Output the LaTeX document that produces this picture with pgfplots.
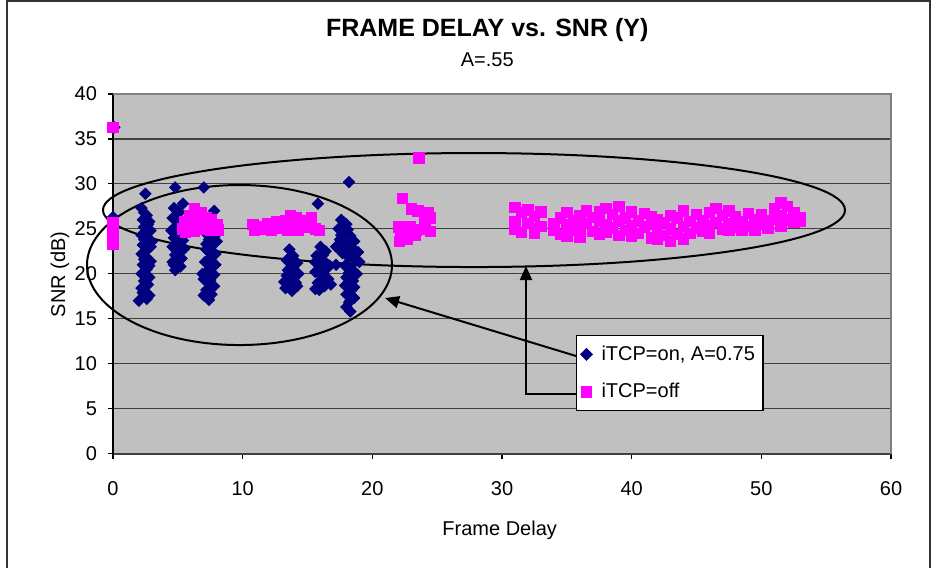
\documentclass[border=0pt]{standalone}
\usepackage{fontspec}
\setmainfont{Liberation Sans}
\usepackage{pgfplots}
\pgfplotsset{compat=1.18}
\usetikzlibrary{arrows.meta}

\definecolor{plotbg}{RGB}{192,192,192}
\definecolor{gridc}{RGB}{64,64,64}
\definecolor{onblue}{RGB}{0,0,128}
\definecolor{offpink}{RGB}{255,0,255}

\begin{document}
\begin{tikzpicture}
\begin{axis}[
    scale only axis,
    width=389pt, height=179.75pt,
    xmin=0, xmax=60, ymin=0, ymax=40,
    xtick={0,10,...,60}, ytick={0,5,...,40},
    axis x line*=bottom, axis y line*=left,
    x axis line style={gridc, line width=1pt},
    y axis line style={black, line width=0.8pt},
    tick align=outside, major tick length=2.5pt,
    tick style={black, line width=0.6pt},
    ymajorgrids, grid style={gridc, line width=0.6pt},
    axis background/.style={fill=plotbg},
    font=\fontsize{10}{12}\selectfont,
    /pgf/number format/assume math mode=true,
    xticklabel style={yshift=-8pt},
    yticklabel style={xshift=-2pt},
    xlabel={Frame Delay}, ylabel={SNR (dB)},
    every axis x label/.style={at={(axis description cs:0.497,-0.229)}, anchor=base},
    every axis y label/.style={at={(axis description cs:-0.0681,0.498)}, rotate=90, anchor=center},
    legend style={at={(axis description cs:0.595,0.3296)}, anchor=north west,
        draw=black, line width=0.6pt, fill=white, inner xsep=2pt, inner ysep=3pt,
        row sep=6pt, font=\fontsize{10}{12}\selectfont},
    legend cell align=left,
    legend image code/.code={\path[draw=none,fill=none] (0pt,0pt) rectangle (8.5pt,0.1pt);\draw[#1] plot coordinates {(3pt,0pt)};},
    clip=false,
]
% iTCP=on
\addplot[only marks, mark=square*, mark size=2.0pt, color=onblue,
    mark options={rotate=45, fill=onblue, draw=onblue}] coordinates {
(0.1,36.3) (0,26.3) (0,25.2) (0,24.0) (0,23.2)
(2.5,28.9) (2.2,27.3) (2.6,26.5) (2.3,26.0) (2.8,25.8) (2.4,25.2) (2.9,24.8)
(2.2,24.3) (2.6,24.0) (3.0,23.6) (2.3,23.2) (2.7,22.8) (2.2,22.2) (2.6,21.8)
(2.9,21.4) (2.3,21.0) (2.6,20.5) (2.2,20.0) (2.8,19.6) (2.4,19.2) (2.7,18.8)
(2.2,18.4) (2.5,18.0) (2.8,17.6) (2.0,17.0) (2.4,17.5)
(2.4,26.8) (2.7,25.5) (2.5,24.6) (2.4,23.8) (2.9,23.0) (2.5,22.5) (2.4,21.6)
(2.8,20.9) (2.5,19.9) (2.6,19.4) (2.3,17.9) (2.6,17.2)
(4.8,29.6) (5.4,27.8) (4.7,27.3) (5.1,26.8) (4.6,26.2) (5.3,25.8) (4.9,25.3)
(4.5,24.8) (5.2,24.5) (4.7,24.0) (5.0,23.5) (4.6,23.0) (5.1,22.6) (4.8,22.1)
(5.3,21.7) (4.6,21.3) (5.0,20.9) (4.8,20.4) (5.2,20.8)
(5.0,27.0) (4.9,26.0) (5.1,25.0) (4.8,24.4) (4.9,23.2) (5.1,21.9) (4.7,21.0)
(5.4,23.7) (5.6,25.6) (5.5,22.8)
(7.0,29.6) (7.8,27.0) (7.3,26.0) (7.6,25.3) (7.1,24.6) (7.9,24.3) (7.4,23.8)
(7.7,23.2) (7.2,22.7) (7.9,22.2) (7.5,21.8) (7.1,21.3) (7.7,20.8) (7.3,20.3)
(7.6,19.8) (7.0,19.4) (7.4,18.9) (7.8,18.6) (7.2,18.2) (7.6,17.7) (7.4,17.1)
(6.9,20.0)
(7.5,24.9) (7.4,22.4) (7.6,21.3) (7.2,19.9) (7.5,19.3) (7.4,18.4) (7.8,19.9)
(7.9,21.0) (8.0,23.6) (7.2,23.3) (7.0,17.6)
(13.6,22.7) (13.9,22.0) (13.4,21.5) (14.2,21.2) (13.7,20.7) (14.0,20.2)
(13.4,19.8) (13.9,19.4) (13.6,18.9) (14.2,18.6) (13.3,18.4) (13.8,18.1)
(13.5,20.4) (14.1,19.0)
(13.7,21.9) (13.8,21.1) (13.6,19.6) (13.7,18.5) (14.3,20.0) (13.2,19.1)
(15.8,27.8) (16.0,23.0) (16.4,22.5) (15.7,22.0) (16.2,21.5) (15.9,21.0)
(16.5,20.6) (15.6,20.2) (16.1,19.8) (16.6,19.4) (15.8,19.0) (16.3,18.6)
(15.6,18.3) (16.0,18.5) (16.7,20.9)
(16.2,22.1) (16.1,20.5) (16.3,19.2) (15.9,18.2) (15.6,21.3) (16.8,18.8)
(18.2,30.2) (17.6,26.0) (18.0,25.5) (17.4,25.0) (17.8,24.6) (18.3,24.2)
(17.5,23.8) (17.9,23.4) (17.2,23.0) (18.5,22.8) (18.9,22.4) (17.7,22.3)
(18.2,21.8) (18.7,21.4) (17.9,20.9) (18.4,20.5) (18.8,20.0) (18.0,19.6)
(18.5,19.2) (17.9,18.7) (18.4,18.2) (18.0,17.7) (18.6,17.3) (18.2,16.8)
(18.0,16.3) (18.3,15.8) (17.6,24.3) (17.2,21.0)
(17.8,25.7) (18.1,24.9) (18.1,23.0) (18.4,22.0) (18.2,20.1) (18.2,19.0)
(18.3,17.0) (18.6,18.5) (19.0,21.3) (17.5,22.7) (18.6,23.6)
};
\addlegendentry{iTCP=on, A=0.75}
% iTCP=off
\addplot[only marks, mark=square*, mark size=2.6pt, color=offpink,
    mark options={fill=offpink, draw=offpink}] coordinates {
(0,36.3) (0,25.7) (0,25.1) (0,24.5) (0,23.9) (0,23.3)
(6.3,27.2) (6.8,26.8) (5.9,26.5) (7.2,26.3) (5.5,25.8) (6.0,25.6) (6.6,25.9)
(7.6,26.0) (8.0,25.5) (5.4,25.0) (5.9,24.8) (6.5,25.2) (7.0,25.0) (7.5,24.8)
(8.1,24.9) (6.3,24.7) (7.8,25.2) (5.6,24.6)
(10.8,25.5) (10.9,24.8) (11.5,25.0) (11.9,25.6) (12.2,24.9) (12.6,25.8)
(12.9,25.1) (13.3,25.9) (13.7,26.5) (14.1,26.3) (13.9,25.4) (14.5,25.9)
(14.8,25.2) (15.2,25.7) (15.6,25.0) (15.9,24.8) (12.4,25.4) (13.5,24.9)
(14.3,24.8) (11.2,25.2) (15.3,26.2)
(22.3,28.4) (23.0,27.2) (23.5,27.0) (24.3,26.8) (24.5,26.2) (24.0,25.8)
(22.0,25.2) (22.5,24.8) (22.9,25.3) (23.4,24.9) (24.1,25.0) (24.5,24.7)
(22.2,24.2) (22.7,23.8) (23.3,24.3) (22.1,23.6) (23.6,32.9)
(31.0,27.4) (31.0,25.8) (31.0,25.0) (31.5,26.8) (31.5,24.6) (32.0,27.1)
(32.0,25.6) (32.5,26.4) (32.5,25.0) (32.5,24.5) (33.0,26.9) (33.0,25.3)
(34.0,25.6) (34.0,24.9) (34.5,26.2) (34.5,24.4) (35.0,26.8) (35.0,25.5)
(35.0,24.2) (35.5,25.9) (35.5,24.8) (36.0,26.5) (36.0,25.2) (36.0,24.1)
(36.5,27.0) (36.5,25.6) (37.0,26.3) (37.0,24.7) (37.5,25.8) (37.5,24.4)
(37.5,26.9) (38.0,27.3) (38.0,25.5) (38.0,24.6) (38.5,26.6) (38.5,25.1)
(39.0,27.5) (39.0,25.9) (39.0,24.3) (39.5,26.2) (39.5,24.8) (40.0,26.9)
(40.0,25.4) (40.0,24.2) (40.5,25.9) (40.5,24.5) (41.0,26.7) (41.0,25.2)
(41.5,25.5) (41.5,24.0) (41.5,26.4) (42.0,26.0) (42.0,24.7) (42.0,23.8)
(42.5,25.7) (42.5,24.3) (43.0,26.5) (43.0,25.0) (43.0,23.6) (43.5,26.2)
(43.5,24.4) (44.0,27.0) (44.0,25.3) (44.0,23.9) (44.5,25.8) (44.5,24.5)
(45.0,26.6) (45.0,25.1) (45.5,25.9) (45.5,24.7) (46.0,26.8) (46.0,25.4)
(46.0,24.5) (46.5,27.3) (46.5,25.7) (47.0,26.5) (47.0,25.0) (47.5,27.0)
(47.5,25.6) (47.5,24.8) (48.0,26.4) (48.0,25.2) (48.5,25.8) (48.5,24.9)
(49.0,26.7) (49.0,25.3) (49.5,26.0) (49.5,24.8) (50.0,26.6) (50.0,25.5)
(50.5,25.9) (50.5,25.1) (51.0,27.2) (51.0,26.1) (51.5,27.9) (51.5,26.5)
(51.5,25.3) (52.0,27.5) (52.0,26.0) (52.5,26.8) (52.5,25.7) (53.0,26.3)
(53.0,25.8)
};
\addlegendentry{iTCP=off}

% plot area frame (top and right)
\draw[gray, line width=0.6pt] (rel axis cs:0,1) -- (rel axis cs:1,1) -- (rel axis cs:1,0);
% titles
\node[font=\fontsize{12.5}{15}\selectfont\bfseries] at (axis description cs:0.481,1.178) {FRAME DELAY vs. SNR (Y)};
\node[font=\fontsize{10}{12}\selectfont] at (axis description cs:0.481,1.0946) {A=.55};
% callout ellipses
\draw[black, line width=1pt] (axis cs:27.84,27.09) ellipse [x radius=185.5pt, y radius=28.5pt];
\draw[black, line width=1pt] (axis cs:9.755,20.97) ellipse [x radius=76.25pt, y radius=40pt];
% arrows from the legend
\draw[black, line width=1pt, -{Triangle[length=7pt,width=6pt]}] (axis cs:35.71,10.85) -- (axis cs:20.98,17.30);
\draw[black, line width=1pt, -{Triangle[length=7pt,width=6pt]}] (axis cs:35.71,6.62) -- (axis cs:31.85,6.62) -- (axis cs:31.85,20.86);
\end{axis}
% outer chart border
\draw[black!80, line width=1pt] ([xshift=-53pt,yshift=-57.25pt]current axis.south west) -- ([xshift=-53pt,yshift=46.5pt]current axis.south west |- current axis.north east) -- ([xshift=19.5pt,yshift=46.5pt]current axis.north east) -- ([xshift=19.5pt,yshift=-57.25pt]current axis.north east |- current axis.south west);
\path[use as bounding box] ([xshift=-56.5pt,yshift=-57.25pt]current axis.south west) rectangle ([xshift=24pt,yshift=47pt]current axis.north east);
\end{tikzpicture}
\end{document}
